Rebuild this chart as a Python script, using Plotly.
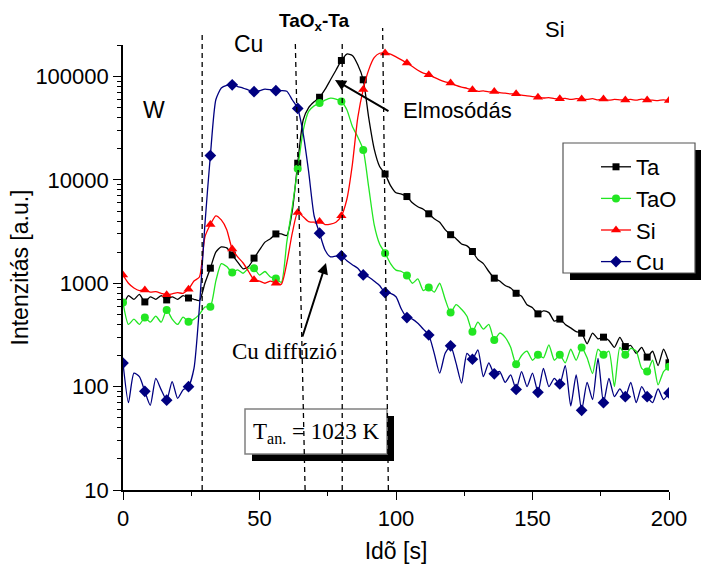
import plotly.graph_objects as go

# Sputter time axis (s), sampled every 2 s
time_s = list(range(0, 201, 2))

ta = [600, 760, 700, 780, 660, 740, 700, 760, 690, 740, 700, 760, 720, 700, 680, 1000,
      1400, 2000, 2250, 2200, 1880, 1600, 1380, 1450, 1750, 2100, 2500, 2700, 3000, 3000, 2900, 5000,
      14500, 38000, 50000, 57000, 63000, 75000, 93000, 115000, 143000, 165000, 160000, 130000, 93000, 40000, 20000, 13500,
      11400, 8800, 7500, 7300, 6900, 6000, 5500, 5200, 4700, 4200, 3900, 3300, 2950, 2700, 2400, 2300,
      2030, 1700, 1550, 1300, 1120, 1050, 950, 900, 800, 750, 620, 580, 506, 540, 520, 430,
      450, 400, 370, 340, 329, 260, 330, 290, 301, 280, 240, 300, 244, 250, 210, 240,
      193, 220, 160, 230, 170]

tao = [650, 400, 450, 400, 466, 420, 480, 420, 552, 450, 400, 470, 425, 450, 500, 590,
       594, 1050, 1550, 1450, 1270, 1350, 1250, 1400, 1400, 1200, 1300, 1150, 1110, 1020, 2500, 5500,
       12800, 30000, 46000, 52000, 55300, 59000, 61700, 60500, 57400, 47700, 33000, 26000, 19500, 8500, 3700, 2400,
       1950, 1550, 1340, 1300, 1190, 1000, 1100, 850, 908, 820, 1000, 700, 520, 620, 560, 480,
       340, 420, 360, 400, 283, 330, 300, 240, 165, 200, 220, 180, 203, 190, 254, 180,
       203, 170, 230, 180, 239, 190, 134, 230, 203, 220, 100, 240, 203, 235, 220, 150,
       140, 180, 104, 140, 156]

si = [1200, 1000, 900, 850, 863, 820, 830, 800, 773, 790, 810, 800, 877, 1050, 1150, 2800,
      3700, 4490, 4100, 3300, 2140, 1800, 1570, 1300, 1080, 1050, 1000, 1050, 1000, 980, 1570, 3050,
      4850, 4400, 3950, 3900, 3950, 3700, 3740, 3900, 4490, 6500, 14000, 40000, 75000, 116000, 152000, 168000,
      169000, 165000, 155000, 145000, 135000, 125000, 115000, 108000, 104000, 98000, 93000, 89000, 86400, 82000, 79000, 77000,
      74500, 72000, 72500, 71000, 71800, 70000, 69000, 68000, 68100, 66000, 65000, 64000, 63200, 62000, 62500, 61000,
      60900, 61500, 60000, 61000, 60500, 60000, 61000, 59500, 60500, 59000, 60000, 59500, 59400, 60000, 59000, 60500,
      59400, 59000, 58500, 59500, 58700]

cu = [169, 70, 135, 125, 90, 66, 120, 93, 74, 112, 77, 93, 100, 150, 590, 3700,
      17200, 59600, 77400, 82000, 83200, 80000, 77400, 74000, 71300, 73000, 75600, 74500, 73000, 73000, 72000, 59600,
      49100, 28000, 12000, 4500, 3050, 2100, 1800, 1830, 1840, 1650, 1510, 1400, 1205, 1150, 1050, 950,
      813, 800, 740, 560, 466, 450, 410, 360, 316, 210, 135, 210, 248, 169, 108, 210,
      184, 227, 125, 170, 133, 140, 110, 130, 94, 140, 100, 135, 88, 150, 100, 120,
      106, 160, 65, 130, 59, 110, 75, 188, 70, 120, 80, 95, 80, 110, 70, 100,
      80, 70, 95, 75, 87]

y_tickvals = [10, 100, 1000, 10000, 100000]
y_ticktext = ["10", "100", "1000", "10000", "100000"]
x_tickvals = [0, 50, 100, 150, 200]

SANS = "Liberation Sans, Arial, sans-serif"
SERIF = "Liberation Serif, Times New Roman, serif"

W, H = 701, 564
L, R, T, B = 123, 32, 45, 74
PW, PH = W - L - R, H - T - B


def px_x(p):
    return (p - L) / PW


def px_y(p):
    return (H - B - p) / PH


series = [
    ("Ta", ta, "#000000", "square", 7, 8),
    ("TaO", tao, "#22e622", "circle", 8, 0),
    ("Si", si, "#ff0000", "triangle-up", 9, 0),
    ("Cu", cu, "#000080", "diamond", 9, 0),
]

fig = go.Figure()
for name, vals, color, symbol, msize, first in series:
    fig.add_trace(go.Scatter(
        x=time_s, y=vals, mode="lines", showlegend=False,
        line=dict(color=color, width=1.3, shape="spline", smoothing=0.6),
        hoverinfo="skip"))
    # symbols every 8 s
    mx = [t for t in time_s if t >= first and t % 8 == 0]
    my = [v for t, v in zip(time_s, vals) if t >= first and t % 8 == 0]
    fig.add_trace(go.Scatter(
        x=mx, y=my, mode="markers", showlegend=False,
        marker=dict(color=color, symbol=symbol, size=msize, line=dict(width=0))))

for name, vals, color, symbol, msize, first in series:
    fig.add_trace(go.Scatter(
        x=[None], y=[None], mode="lines+markers", name=name,
        line=dict(color=color, width=1.3),
        marker=dict(color=color, symbol=symbol, size=msize, line=dict(width=0))))

shapes = []
# legend frame with drop shadow
shapes.append(dict(type="rect", xref="paper", yref="paper",
                   x0=px_x(570), x1=px_x(703), y0=px_y(280), y1=px_y(150),
                   fillcolor="black", line=dict(width=0), layer="above"))
shapes.append(dict(type="rect", xref="paper", yref="paper",
                   x0=px_x(563), x1=px_x(695), y0=px_y(273), y1=px_y(143),
                   fillcolor="white", line=dict(color="#555555", width=1.2), layer="above"))
# annealing temperature box with drop shadow
shapes.append(dict(type="rect", xref="paper", yref="paper",
                   x0=px_x(252), x1=px_x(394), y0=px_y(461), y1=px_y(416),
                   fillcolor="black", line=dict(width=0), layer="above"))
shapes.append(dict(type="rect", xref="paper", yref="paper",
                   x0=px_x(245), x1=px_x(387), y0=px_y(454), y1=px_y(409),
                   fillcolor="white", line=dict(color="#808080", width=1.5), layer="above"))
# layer boundaries
boundaries = [(29.0, 29.0, px_y(32)), (66.7, 63.1, px_y(40)),
              (80.3, 80.3, px_y(40)), (97.2, 95.1, px_y(28))]
for xb, xt, yt in boundaries:
    shapes.append(dict(type="line", xref="x", yref="paper",
                       x0=xb, y0=0, x1=xt, y1=yt,
                       line=dict(color="black", width=1.3, dash="5px,4px"), layer="above"))

annotations = [
    dict(text="W", x=px_x(154), y=px_y(110), font=dict(family=SANS, size=23)),
    dict(text="Cu", x=px_x(248), y=px_y(44), font=dict(family=SANS, size=23)),
    dict(text="<b>TaO<sub>x</sub>-Ta</b>", x=px_x(314), y=px_y(22), font=dict(family=SANS, size=19)),
    dict(text="Si", x=px_x(555), y=px_y(30), font=dict(family=SANS, size=22)),
    dict(text="Elmosódás", x=px_x(457), y=px_y(110), font=dict(family=SANS, size=22)),
    dict(text="Cu diffúzió", x=px_x(284), y=px_y(351), font=dict(family=SERIF, size=23)),
    dict(text="T<sub>an.</sub> = 1023 K", x=px_x(316), y=px_y(433), font=dict(family=SERIF, size=23)),
]
for a in annotations:
    a.update(xref="paper", yref="paper", showarrow=False, xanchor="center", yanchor="middle")

# arrows
annotations.append(dict(x=px_x(335), y=px_y(80), xref="paper", yref="paper", text="",
                        showarrow=True, ax=55, ay=32, arrowhead=2, arrowsize=1.1,
                        arrowwidth=2, arrowcolor="black"))
annotations.append(dict(x=px_x(326), y=px_y(263), xref="paper", yref="paper", text="",
                        showarrow=True, ax=-24, ay=75, arrowhead=2, arrowsize=1.1,
                        arrowwidth=2, arrowcolor="black"))

fig.update_layout(
    width=W, height=H,
    margin=dict(l=L, r=R, t=T, b=B, autoexpand=False),
    paper_bgcolor="white", plot_bgcolor="white",
    shapes=shapes, annotations=annotations,
    font=dict(family=SANS, color="black"),
    legend=dict(x=px_x(596), y=px_y(146), xanchor="left", yanchor="top",
                bgcolor="rgba(0,0,0,0)", borderwidth=0,
                font=dict(family=SANS, size=22), tracegroupgap=0),
)

fig.update_xaxes(
    range=[0, 200], tickmode="array", tickvals=x_tickvals, automargin=False,
    showline=True, linecolor="black", linewidth=1.6, mirror=False,
    ticks="outside", ticklen=8, tickwidth=1.3, tickcolor="black",
    minor=dict(dtick=25, tick0=0, ticks="outside", ticklen=4, tickcolor="black", showgrid=False),
    showgrid=False, zeroline=False,
    tickfont=dict(family=SANS, size=22),
    title=dict(text="Idõ [s]", font=dict(family=SANS, size=23), standoff=18),
)
fig.update_yaxes(
    type="log", range=[1, 5.305], tickmode="array", automargin=False,
    tickvals=y_tickvals, ticktext=y_ticktext,
    showline=True, linecolor="black", linewidth=1.6, mirror=False,
    ticks="outside", ticklen=8, tickwidth=1.3, tickcolor="black",
    minor=dict(dtick="D1", ticks="outside", ticklen=4, tickcolor="black", showgrid=False),
    showgrid=False, zeroline=False,
    tickfont=dict(family=SANS, size=22),
    title=dict(text="Intenzitás [a.u.]", font=dict(family=SANS, size=23), standoff=0),
)

fig.write_html("out.html")
